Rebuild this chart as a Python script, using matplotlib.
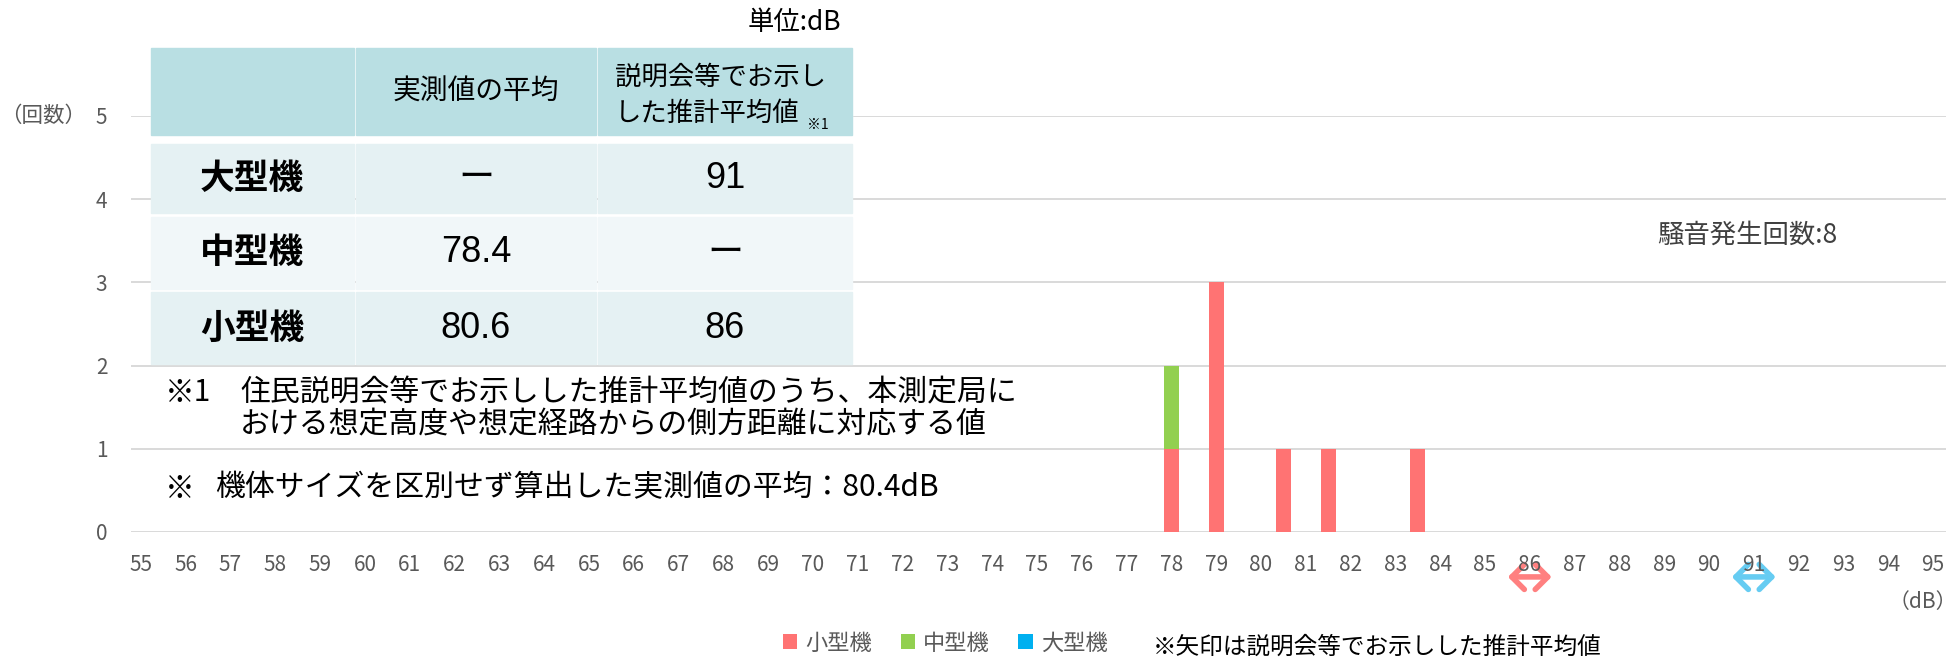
import matplotlib
matplotlib.use("Agg")
import matplotlib.pyplot as plt
from matplotlib.patches import Rectangle, FancyArrowPatch

plt.rcParams['font.family'] = ['Noto Sans CJK JP', 'DejaVu Sans']

# データ（騒音レベル dB ごとの発生回数）
levels = [78, 79, 80.5, 81.5, 83.5]
small = [1, 3, 1, 1, 1]
medium = [1, 0, 0, 0, 0]
large = [0, 0, 0, 0, 0]
series_names = ['小型機', '中型機', '大型機']
series_colors = ['#FF7373', '#92D050', '#00B0F0']

xticks = list(range(55, 96))
yticks = [0, 1, 2, 3, 4, 5]

# 推計平均値（矢印）
arrow_x = [86, 91]
arrow_colors = ['#FF8080', '#66CCF2']

# 表
row_labels = ['大型機', '中型機', '小型機']
measured = ['ー', '78.4', '80.6']
estimated = ['91', 'ー', '86']

W, H = 1958, 657
fig = plt.figure(figsize=(W / 100, H / 100), dpi=100)
ax = fig.add_axes([131 / W, 1 - 532 / H, (1946 - 131) / W, (532 - 116) / H])

bw = 0.335
bottom = [0] * len(levels)
bars = []
for vals, name, col in zip([small, medium, large], series_names, series_colors):
    b = ax.bar(levels, vals, width=bw, bottom=bottom, color=col, label=name, zorder=3)
    bars.append(b)
    bottom = [p + q for p, q in zip(bottom, vals)]

ax.set_xlim(54.78, 95.29)
ax.set_ylim(0, 5)
ax.set_xticks(xticks)
ax.set_yticks(yticks)
ax.tick_params(axis='x', length=0, pad=16, labelsize=15, labelcolor='#595959')
ax.tick_params(axis='y', length=0, pad=17, labelsize=15, labelcolor='#595959')
ax.grid(axis='y', color='#D9D9D9', lw=1.4, zorder=0)
for s in ax.spines.values():
    s.set_visible(False)

# 矢印
for xa, ca in zip(arrow_x, arrow_colors):
    ar = FancyArrowPatch((xa - 0.55, -0.108), (xa + 0.55, -0.108),
                         transform=ax.get_xaxis_transform(),
                         arrowstyle='<->,head_length=0.5,head_width=0.5',
                         mutation_scale=18, lw=4, color=ca, clip_on=False)
    ax.add_artist(ar)

leg = fig.legend(handles=bars, labels=series_names, loc='center',
                 bbox_to_anchor=(945 / W, 1 - 643 / H), ncol=3, frameon=False,
                 fontsize=16, handlelength=0.65, handleheight=0.65,
                 handletextpad=0.35, columnspacing=1.3, labelcolor='#595959')

# 表・注記（ピクセル座標のオーバーレイ）
ov = fig.add_axes([0, 0, 1, 1], zorder=5)
ov.set_xlim(0, W)
ov.set_ylim(H, 0)
ov.axis('off')

cols = [(151, 354), (356, 596), (598, 852)]
ov.add_patch(Rectangle((cols[0][0], 48), cols[2][1] - cols[0][0], 88, color='white'))
for x0, x1 in cols:
    ov.add_patch(Rectangle((x0, 48), x1 - x0, 87, color='#B9DFE3'))
rows = [(144, 213), (217, 289), (292, 364)]
row_bg = ['#E5F1F3', '#F1F7F9', '#E5F1F3']
for (y0, y1), bg, lab, m, e in zip(rows, row_bg, row_labels, measured, estimated):
    for x0, x1 in cols:
        ov.add_patch(Rectangle((x0, y0), x1 - x0, y1 - y0, color=bg))
    yc = (y0 + y1) / 2
    ov.text(252, yc, lab, ha='center', va='center', fontsize=25, fontweight='bold')
    ov.text(476, yc, m, ha='center', va='center', fontsize=26,
            family=['Liberation Sans', 'Noto Sans CJK JP'])
    ov.text(725, yc, e, ha='center', va='center', fontsize=26,
            family=['Liberation Sans', 'Noto Sans CJK JP'])

ov.text(476, 92, '実測値の平均', ha='center', va='center', fontsize=20)
ov.text(615, 77, '説明会等でお示し', ha='left', va='center', fontsize=19)
ov.text(615, 113, 'した推計平均値', ha='left', va='center', fontsize=19)
ov.text(807, 125, '※1', ha='left', va='center', fontsize=10)
ov.text(841, 23, '単位:dB', ha='right', va='center', fontsize=19)

ov.text(165, 393, '※1', ha='left', va='center', fontsize=21.5)
ov.text(240, 393, '住民説明会等でお示しした推計平均値のうち、本測定局に', ha='left', va='center', fontsize=21.5)
ov.text(240, 425, 'おける想定高度や想定経路からの側方距離に対応する値', ha='left', va='center', fontsize=21.5)
ov.text(165, 488, '※', ha='left', va='center', fontsize=21.5)
ov.text(215, 488, '機体サイズを区別せず算出した実測値の平均：80.4dB', ha='left', va='center', fontsize=21.5)

ov.text(1657, 235, f'騒音発生回数:{sum(small) + sum(medium) + sum(large)}', ha='left',
        va='center', fontsize=19, color='#404040')
ov.text(86, 116, '（回数）', ha='right', va='center', fontsize=15.5, color='#595959')
ov.text(1957, 602, '（dB）', ha='right', va='center', fontsize=15, color='#595959')
ov.text(1153, 647, '※矢印は説明会等でお示しした推計平均値', ha='left', va='center', fontsize=17)

fig.savefig('out.png', dpi=100)
